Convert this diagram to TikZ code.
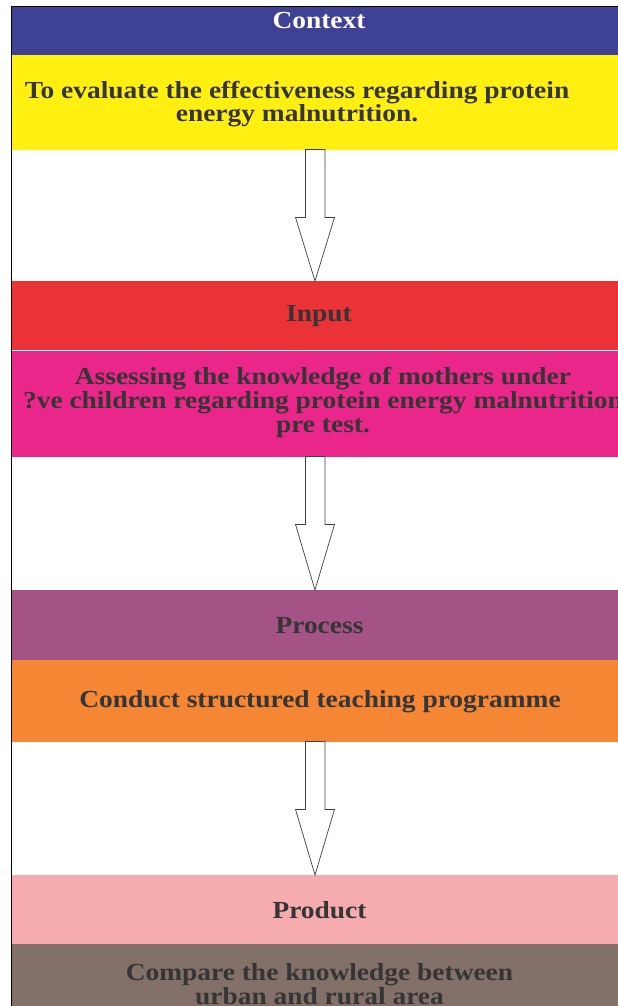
\documentclass[tikz,border=0pt]{standalone}
\usepackage{fontspec}
\setmainfont{Liberation Serif}[FakeStretch=1.12]
\usetikzlibrary{calc}
\definecolor{cblue}{HTML}{3F4194}
\definecolor{cyellow}{HTML}{FFF012}
\definecolor{cred}{HTML}{EB3237}
\definecolor{cpink}{HTML}{EA268B}
\definecolor{cpurple}{HTML}{A55287}
\definecolor{corange}{HTML}{F58634}
\definecolor{clpink}{HTML}{F6ABAE}
\definecolor{cbrown}{HTML}{837169}
\definecolor{ctext}{HTML}{353535}
\tikzset{
  band/.style={rectangle, draw=none, inner sep=0pt, anchor=north west, minimum width=630pt},
  lbl/.style={inner sep=0pt, anchor=base, align=center, text=ctext, font=\bfseries\fontsize{24.5}{23.8}\selectfont},
  hollowarrow/.style={draw=black!75, line width=0.7pt, fill=white, line join=miter},
}
\begin{document}
\begin{tikzpicture}[x=1pt,y=-1pt]
\useasboundingbox (0,0) rectangle (618,1006);
\clip (0,0) rectangle (618,1006);
\fill[white] (0,0) rectangle (618,1006);
% bands
\node[band, fill=cblue,   minimum height=48pt] (ctxhead)  at (11,7) {};
\node[band, fill=cyellow, minimum height=95pt] (ctxbody)  at (11,55) {};
\node[band, fill=cred,    minimum height=69pt] (inhead)   at (11,281) {};
\node[band, fill=cpink,   minimum height=106pt] (inbody)  at (11,351) {};
\node[band, fill=cpurple, minimum height=70pt] (prochead) at (11,590) {};
\node[band, fill=corange, minimum height=82pt] (procbody) at (11,660) {};
\node[band, fill=clpink,  minimum height=69pt] (prodhead) at (11,875) {};
\node[band, fill=cbrown,  minimum height=70pt] (prodbody) at (11,944) {};
% frame lines
\draw[black, line width=1pt] (ctxhead.north west) -- (ctxhead.north east);
\draw[black, line width=1pt] (ctxhead.north west) -- (11,1006);
% texts
\node[lbl, text=white] (tctx) at (319,29) {Context};
\node[lbl] (tctxb) at (297,122) {To evaluate the effectiveness regarding protein\\energy malnutrition.};
\node[lbl] (tin) at (319,321) {Input};
\node[lbl] (tinb) at (323,432) {Assessing the knowledge of mothers under\\?ve children regarding protein energy malnutrition\\pre test.};
\node[lbl] (tproc) at (319.5,633) {Process};
\node[lbl] (tprocb) at (320,707) {Conduct structured teaching programme};
\node[lbl] (tprod) at (319.5,918) {Product};
\node[lbl] (tprodb) at (319.5,1004) {Compare the knowledge between\\urban and rural area};
% hollow arrows
\foreach \a/\b in {ctxbody/inhead, inbody/prochead, procbody/prodhead}{
  \draw[hollowarrow] (\a.south west -| 305.5,0) ++(0,-1) coordinate (s)
    -- ($(s)+(0,68)$) -- ($(s)+(-10,68)$) -- (\b.north west -| 315,0)
    -- ($(s)+(29,68)$) -- ($(s)+(19.5,68)$) -- ($(s)+(19.5,0)$) -- cycle;
}
\end{tikzpicture}
\end{document}
